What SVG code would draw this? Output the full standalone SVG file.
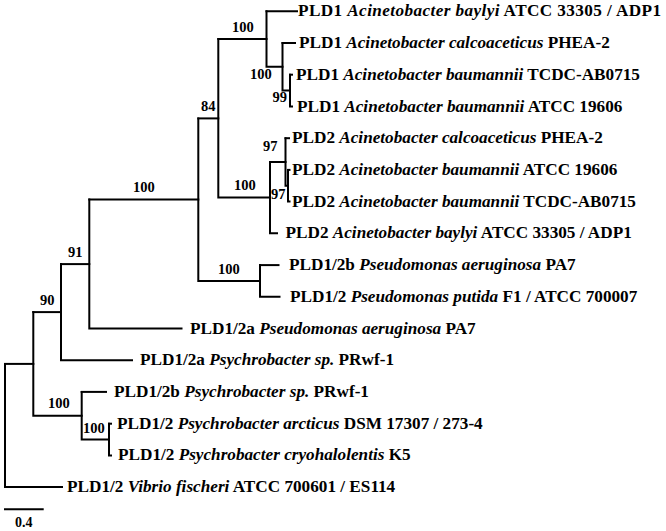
<svg xmlns="http://www.w3.org/2000/svg" width="666" height="531" viewBox="0 0 666 531">
<style>
  text { font-family: "Liberation Serif", "Times New Roman", serif; font-weight: bold; fill: #000; }
  .leaf { font-size: 17.2px; }
  .i { font-style: italic; }
  .bs { font-size: 14.5px; }
  .sc { font-size: 14px; }
  #connectors path { fill: none; stroke: #000; stroke-width: 2; stroke-linecap: square; stroke-linejoin: miter; }
</style>
<rect width="666" height="531" fill="#fff"/>
<g id="connectors">
  <!-- root -->
  <path d="M5 363.9 V487.1 H62"/>
  <path d="M5 363.9 H33.3"/>
  <!-- N1 -->
  <path d="M33.3 312.1 V415.7 H81.7"/>
  <path d="M33.3 312.1 H61"/>
  <!-- N90 -->
  <path d="M61 264.1 V360.2 H132"/>
  <path d="M61 264.1 H89.3"/>
  <!-- N91 -->
  <path d="M89.3 199.6 V328.5 H181.5"/>
  <path d="M89.3 199.6 H198.3"/>
  <!-- BigN -->
  <path d="M198.3 118.4 V281 H260"/>
  <path d="M198.3 118.4 H218.3"/>
  <!-- D -->
  <path d="M218.3 39 V197.6 H270"/>
  <path d="M218.3 39 H266.5"/>
  <!-- A -->
  <path d="M266.5 11.3 V66.8 H282.5"/>
  <path d="M266.5 11.3 H297"/>
  <!-- B -->
  <path d="M282.5 43 V90.6 H290"/>
  <path d="M282.5 43 H295"/>
  <!-- C -->
  <path d="M290 74.7 V106.5 H292"/>
  <path d="M290 74.7 H292"/>
  <!-- E -->
  <path d="M270 162 V233.3 H277"/>
  <path d="M270 162 H285.5"/>
  <!-- F -->
  <path d="M285.5 138.2 V185.8 H288"/>
  <path d="M285.5 138.2 H289"/>
  <!-- G -->
  <path d="M288 169.9 V201.6 H289.5"/>
  <path d="M288 169.9 H289.5"/>
  <!-- Ps -->
  <path d="M260 265.1 V296.8 H279.5"/>
  <path d="M260 265.1 H278.5"/>
  <!-- P100 -->
  <path d="M81.7 391.9 V439.6 H109"/>
  <path d="M81.7 391.9 H106"/>
  <!-- C' -->
  <path d="M109 423.7 V455.4 H111"/>
  <path d="M109 423.7 H111"/>
  <!-- scale bar -->
  <path d="M5 509.3 H42.7"/>
</g>
<g id="node-A"><text class="bs" x="232" y="32">100</text></g>
<g id="node-B"><text class="bs" x="250" y="79">100</text></g>
<g id="node-C"><text class="bs" x="272.5" y="102">99</text></g>
<g id="node-D"><text class="bs" x="201" y="111">84</text></g>
<g id="node-E"><text class="bs" x="234" y="190">100</text></g>
<g id="node-F"><text class="bs" x="263" y="151">97</text></g>
<g id="node-G"><text class="bs" x="271" y="198.5">97</text></g>
<g id="node-BigN"><text class="bs" x="133" y="192">100</text></g>
<g id="node-Ps"><text class="bs" x="218" y="274">100</text></g>
<g id="node-N91"><text class="bs" x="68" y="257">91</text></g>
<g id="node-N90"><text class="bs" x="40" y="305">90</text></g>
<g id="node-P100"><text class="bs" x="48" y="408">100</text></g>
<g id="node-Cp"><text class="bs" x="83" y="433">100</text></g>

<g id="leaf-0"><text class="leaf" x="298" y="16.3" textLength="363" lengthAdjust="spacing">PLD1 <tspan class="i">Acinetobacter baylyi</tspan> ATCC 33305 / ADP1</text></g>
<g id="leaf-1"><text class="leaf" x="299" y="48">PLD1 <tspan class="i">Acinetobacter calcoaceticus</tspan> PHEA-2</text></g>
<g id="leaf-2"><text class="leaf" x="296" y="79.7">PLD1 <tspan class="i">Acinetobacter baumannii</tspan> TCDC-AB0715</text></g>
<g id="leaf-3"><text class="leaf" x="297" y="111.5">PLD1 <tspan class="i">Acinetobacter baumannii</tspan> ATCC 19606</text></g>
<g id="leaf-4"><text class="leaf" x="292" y="143.2">PLD2 <tspan class="i">Acinetobacter calcoaceticus</tspan> PHEA-2</text></g>
<g id="leaf-5"><text class="leaf" x="292" y="174.9">PLD2 <tspan class="i">Acinetobacter baumannii</tspan> ATCC 19606</text></g>
<g id="leaf-6"><text class="leaf" x="292" y="206.6">PLD2 <tspan class="i">Acinetobacter baumannii</tspan> TCDC-AB0715</text></g>
<g id="leaf-7"><text class="leaf" x="285.5" y="238.3">PLD2 <tspan class="i">Acinetobacter baylyi</tspan> ATCC 33305 / ADP1</text></g>
<g id="leaf-8"><text class="leaf" x="289" y="270.1">PLD1/2b <tspan class="i">Pseudomonas aeruginosa</tspan> PA7</text></g>
<g id="leaf-9"><text class="leaf" x="290" y="301.8">PLD1/2 <tspan class="i">Pseudomonas putida</tspan> F1 / ATCC 700007</text></g>
<g id="leaf-10"><text class="leaf" x="190" y="333.5">PLD1/2a <tspan class="i">Pseudomonas aeruginosa</tspan> PA7</text></g>
<g id="leaf-11"><text class="leaf" x="140" y="365.2">PLD1/2a <tspan class="i">Psychrobacter sp.</tspan> PRwf-1</text></g>
<g id="leaf-12"><text class="leaf" x="114" y="396.9">PLD1/2b <tspan class="i">Psychrobacter sp.</tspan> PRwf-1</text></g>
<g id="leaf-13"><text class="leaf" x="117" y="428.7">PLD1/2 <tspan class="i">Psychrobacter arcticus</tspan> DSM 17307 / 273-4</text></g>
<g id="leaf-14"><text class="leaf" x="118" y="460.4">PLD1/2 <tspan class="i">Psychrobacter cryohalolentis</tspan> K5</text></g>
<g id="leaf-15"><text class="leaf" x="67" y="492.1">PLD1/2 <tspan class="i">Vibrio fischeri</tspan> ATCC 700601 / ES114</text></g>
<g id="scale"><text class="sc" x="15" y="527">0.4</text></g>
</svg>
